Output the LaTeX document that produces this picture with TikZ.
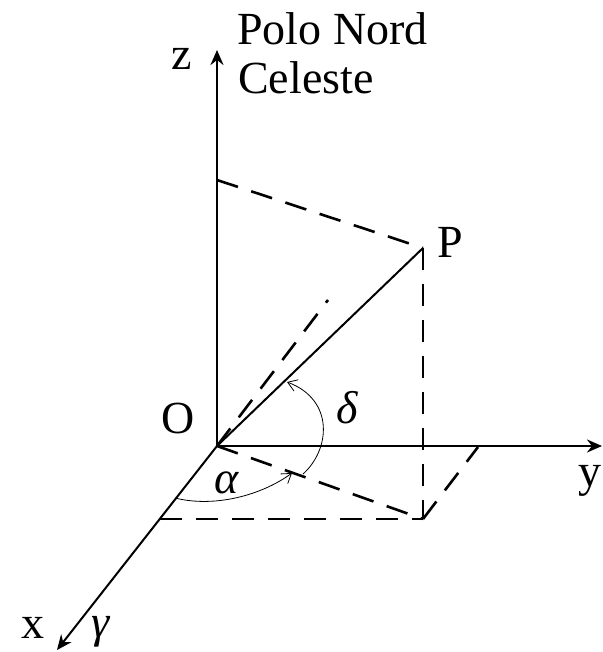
\documentclass[tikz,border=0pt]{standalone}
\usepackage{fontspec}
\setmainfont{Liberation Serif}
\usetikzlibrary{arrows.meta}
\begin{document}
\begin{tikzpicture}[x=1pt,y=-1pt,
  axis/.style={line width=2.6pt,-{Stealth[length=15pt,width=13pt,inset=5pt]}},
  xaxis/.style={line width=2pt,-{Stealth[length=15pt,width=13pt,inset=5pt]}},
  vec/.style={line width=2pt},
  dsh/.style={line width=2.6pt,dash pattern=on 22pt off 14pt},
  arcline/.style={line width=0.8pt,-{Straight Barb[length=9pt,width=12pt]}},
  lbl/.style={inner sep=0pt,font=\fontsize{46}{50}\selectfont},
  glbl/.style={inner sep=0pt,font=\fontsize{46}{50}\selectfont\itshape}]
\useasboundingbox (0,0) rectangle (602,652);
% points
\coordinate (O) at (217,446);
\coordinate (Z) at (217,50);
\coordinate (Y) at (602,446);
\coordinate (X) at (57,650);
\coordinate (P) at (423,248);
\coordinate (Q) at (423,519);
\coordinate (Zp) at (217,180);
\coordinate (Yp) at (478,447);
\coordinate (Xp) at (160,519);
\coordinate (Nx) at (328,300);
\coordinate (A1) at (175,498);
\coordinate (A2) at (292,473);
\coordinate (D1) at (303,474);
\coordinate (D2) at (287,382);
% dashed construction
\draw[dsh] (Zp) -- (P);
\draw[dsh] (P) -- (Q);
\draw[dsh] (O) -- (Q);
\draw[dsh] (Xp) -- (Q);
\draw[dsh] (Q) -- (Yp);
\draw[dsh] (O) -- (Nx);
% axes
\draw[axis] (O) -- (Z);
\draw[axis] (O) -- (Y);
\draw[xaxis] (O) -- (X);
\draw[vec] (O) -- (P);
% angle arcs
\draw[arcline] (A1) .. controls (215,508) and (262,495) .. (A2);
\draw[arcline] (D1) .. controls (330,450) and (335,400) .. (D2);
% labels
\node[lbl,anchor=base west] (pn) at (237,45) {Polo Nord};
\node[lbl,anchor=base west] (ce) at (238,94) {Celeste};
\node[lbl,anchor=base] (zl) at (182,70) {z};
\node[lbl,anchor=base] (pl) at (450,257) {P};
\node[lbl,anchor=base] (ol) at (178,433) {O};
\node[glbl,anchor=base] (dl) at (347,423) {δ};
\node[glbl,anchor=base] (al) at (227,493) {α};
\node[lbl,anchor=base west] (yl) at (578,486) {y};
\node[lbl,anchor=base] (xl) at (33,638) {x};
\node[glbl,anchor=base] (gl) at (101,637) {γ};
\end{tikzpicture}
\end{document}
